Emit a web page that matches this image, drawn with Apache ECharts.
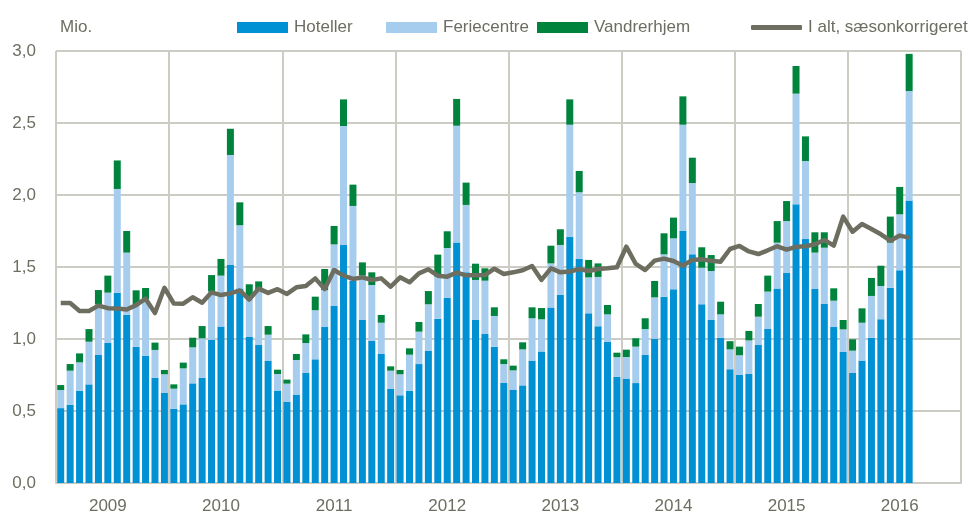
<!DOCTYPE html>
<html>
<head>
<meta charset="utf-8">
<script src="https://cdn.jsdelivr.net/npm/echarts@6/dist/echarts.min.js"></script>
<style>
  html, body { margin: 0; padding: 0; background: #fff; }
  #chart { width: 970px; height: 517px; }
</style>
</head>
<body>
<div id="chart"></div>
<script>
// years on the axis, months per year (data runs Jan 2009 - Jul 2016)
var years = ['2009', '2010', '2011', '2012', '2013', '2014', '2015', '2016'];
var months = ['01', '02', '03', '04', '05', '06', '07', '08', '09', '10', '11', '12'];
var yTicks = ['0,0', '0,5', '1,0', '1,5', '2,0', '2,5', '3,0'];

// overnight stays, mio.
var hoteller = [
  0.52, 0.544, 0.641, 0.685, 0.889, 0.972, 1.32, 1.169, 0.947, 0.884, 0.731, 0.625,
  0.516, 0.546, 0.692, 0.731, 0.995, 1.086, 1.514, 1.35, 1.014, 0.958, 0.85, 0.642,
  0.565, 0.614, 0.764, 0.859, 1.083, 1.229, 1.653, 1.405, 1.132, 0.986, 0.896, 0.653,
  0.609, 0.641, 0.826, 0.917, 1.141, 1.285, 1.671, 1.463, 1.132, 1.035, 0.947, 0.697,
  0.646, 0.678, 0.85, 0.914, 1.218, 1.306, 1.708, 1.556, 1.178, 1.088, 0.981, 0.738,
  0.725, 0.694, 0.889, 1.002, 1.294, 1.345, 1.75, 1.588, 1.241, 1.132, 1.009, 0.79,
  0.75, 0.757, 0.958, 1.069, 1.35, 1.458, 1.935, 1.694, 1.347, 1.243, 1.083, 0.91,
  0.764, 0.85, 1.009, 1.137, 1.356, 1.477, 1.961
];
var feriecentre = [
  0.126, 0.236, 0.197, 0.296, 0.351, 0.35, 0.722, 0.431, 0.293, 0.394, 0.193, 0.13,
  0.139, 0.25, 0.25, 0.274, 0.334, 0.354, 0.764, 0.44, 0.276, 0.382, 0.18, 0.115,
  0.125, 0.24, 0.208, 0.341, 0.257, 0.428, 0.826, 0.519, 0.308, 0.389, 0.217, 0.127,
  0.146, 0.25, 0.225, 0.324, 0.292, 0.347, 0.81, 0.468, 0.278, 0.37, 0.213, 0.129,
  0.136, 0.25, 0.294, 0.223, 0.307, 0.347, 0.78, 0.463, 0.25, 0.343, 0.19, 0.136,
  0.15, 0.253, 0.18, 0.287, 0.294, 0.354, 0.738, 0.495, 0.254, 0.34, 0.162, 0.138,
  0.137, 0.233, 0.197, 0.26, 0.319, 0.361, 0.769, 0.542, 0.253, 0.391, 0.183, 0.157,
  0.155, 0.263, 0.29, 0.231, 0.313, 0.389, 0.761
];
var vandrerhjem = [
  0.034, 0.046, 0.062, 0.088, 0.1, 0.118, 0.198, 0.15, 0.098, 0.076, 0.051, 0.03,
  0.03, 0.04, 0.067, 0.085, 0.115, 0.116, 0.182, 0.159, 0.09, 0.06, 0.06, 0.03,
  0.028, 0.042, 0.06, 0.094, 0.146, 0.128, 0.185, 0.148, 0.092, 0.088, 0.054, 0.03,
  0.03, 0.044, 0.067, 0.092, 0.153, 0.116, 0.186, 0.155, 0.113, 0.086, 0.06, 0.033,
  0.033, 0.049, 0.076, 0.078, 0.123, 0.109, 0.176, 0.148, 0.121, 0.094, 0.065, 0.031,
  0.051, 0.058, 0.075, 0.114, 0.146, 0.144, 0.197, 0.176, 0.142, 0.111, 0.088, 0.057,
  0.06, 0.066, 0.088, 0.111, 0.15, 0.139, 0.192, 0.171, 0.141, 0.107, 0.086, 0.065,
  0.079, 0.1, 0.125, 0.141, 0.181, 0.19, 0.258
];
var saesonkorrigeret = [
  1.25, 1.25, 1.195, 1.195, 1.232, 1.214, 1.212, 1.205, 1.235, 1.28, 1.18, 1.356,
  1.246, 1.245, 1.29, 1.252, 1.324, 1.305, 1.317, 1.337, 1.274, 1.35, 1.32, 1.346,
  1.313, 1.359, 1.368, 1.421, 1.347, 1.479, 1.44, 1.417, 1.428, 1.41, 1.421, 1.363,
  1.428, 1.394, 1.456, 1.484, 1.44, 1.433, 1.461, 1.442, 1.442, 1.444, 1.488, 1.451,
  1.463, 1.477, 1.507, 1.41, 1.491, 1.463, 1.468, 1.486, 1.472, 1.486, 1.491, 1.498,
  1.641, 1.521, 1.479, 1.544, 1.558, 1.542, 1.509, 1.549, 1.553, 1.544, 1.537, 1.625,
  1.646, 1.608, 1.59, 1.616, 1.644, 1.62, 1.64, 1.644, 1.658, 1.688, 1.648, 1.85,
  1.745, 1.799, 1.764, 1.727, 1.683, 1.718, 1.704
];

var categories = [];
years.forEach(function (y) {
  months.forEach(function (m) { categories.push(y + '-' + m); });
});

var FONT = "'Liberation Sans', Arial, sans-serif";
var FS = 17;
var TXT = '#6d6d61';
var GRIDC = '#cdccc4';

function legendAt(left, name, extra) {
  return Object.assign({
    left: left, top: 14,
    itemWidth: 51, itemHeight: 11, itemGap: 0,
    selectedMode: false,
    textStyle: { fontFamily: FONT, fontSize: FS, color: TXT, padding: [0, 0, 0, 1] },
    data: [{ name: name }]
  }, extra || {});
}

var chart = echarts.init(document.getElementById('chart'), null, { renderer: 'canvas' });
chart.setOption({
  animation: false,
  backgroundColor: '#ffffff',
  grid: { left: 56, right: 9, top: 51, bottom: 34, containLabel: false },
  legend: [
    legendAt(232, 'Hoteller', { data: [{ name: 'Hoteller', icon: 'rect' }] }),
    legendAt(381, 'Feriecentre', { data: [{ name: 'Feriecentre', icon: 'rect' }] }),
    legendAt(532, 'Vandrerhjem', { data: [{ name: 'Vandrerhjem', icon: 'rect' }] }),
    legendAt(746, 'I alt, sæsonkorrigeret', {
      itemHeight: 5,
      data: [{ name: 'I alt, sæsonkorrigeret', icon: 'roundRect' }]
    })
  ],
  graphic: [{
    type: 'text', left: 60, top: 19,
    style: { text: 'Mio.', fontFamily: FONT, fontSize: FS, fill: TXT }
  }],
  xAxis: {
    type: 'category',
    data: categories,
    boundaryGap: true,
    axisLine: { show: true, lineStyle: { color: GRIDC, width: 2 } },
    axisTick: { show: false },
    axisLabel: {
      interval: function (i) { return i % 12 === 5; },
      formatter: function (v) { return v.slice(0, 4); },
      fontFamily: FONT, fontSize: FS, color: TXT, margin: 15
    },
    splitLine: {
      show: true,
      interval: function (i) { return i % 12 === 0; },
      lineStyle: { color: GRIDC, width: 2 }
    }
  },
  yAxis: {
    type: 'value',
    min: 0, max: 3, interval: 0.5,
    axisLine: { show: false },
    axisTick: { show: false },
    axisLabel: {
      formatter: function (v) { return yTicks[Math.round(v / 0.5)]; },
      fontFamily: FONT, fontSize: FS, color: TXT, margin: 20
    },
    splitLine: { lineStyle: { color: GRIDC, width: 2 } }
  },
  series: [
    {
      name: 'Hoteller', type: 'bar', stack: 'n', data: hoteller, barWidth: 7,
      itemStyle: { color: '#0090d4' }
    },
    {
      name: 'Feriecentre', type: 'bar', stack: 'n', data: feriecentre, barWidth: 7,
      itemStyle: { color: '#a6cdee' }
    },
    {
      name: 'Vandrerhjem', type: 'bar', stack: 'n', data: vandrerhjem, barWidth: 7,
      itemStyle: { color: '#00843d' }
    },
    {
      name: 'I alt, sæsonkorrigeret', type: 'line', data: saesonkorrigeret,
      symbol: 'none', z: 5,
      lineStyle: { color: '#6e6e60', width: 4.5, join: 'round' },
      itemStyle: { color: '#6e6e60' }
    }
  ]
});
</script>
</body>
</html>
